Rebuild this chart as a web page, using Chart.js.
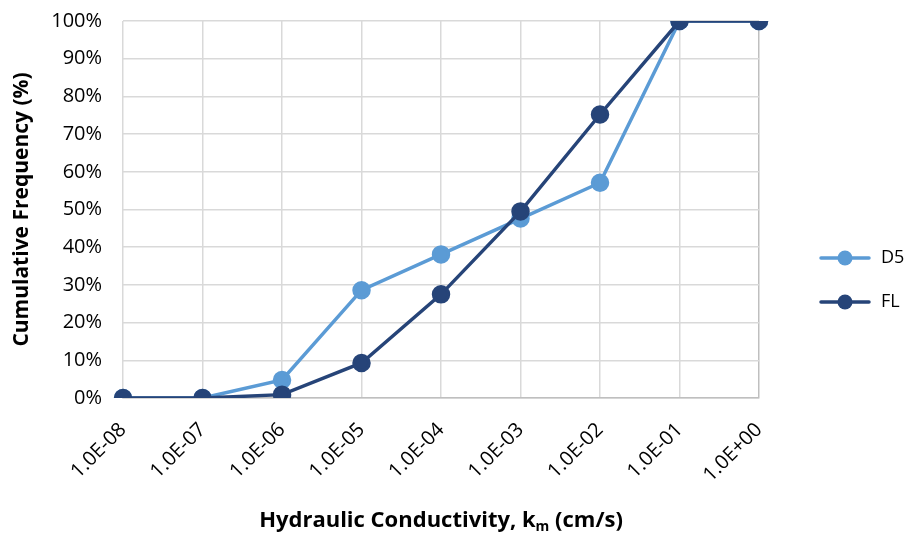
<!DOCTYPE html>
<html>
<head>
<meta charset="utf-8">
<script src="https://cdn.jsdelivr.net/npm/chart.js@4"></script>
<style>
  html, body { margin: 0; padding: 0; background: #fff; }
  #wrap { width: 904px; height: 536px; }
</style>
</head>
<body>
<div id="wrap"><canvas id="chart" width="904" height="536"></canvas></div>
<script>
let categories = ['1.0E-08', '1.0E-07', '1.0E-06', '1.0E-05', '1.0E-04', '1.0E-03', '1.0E-02', '1.0E-01', '1.0E+00'];
let d5Values = [0, 0, 4.8, 28.6, 38.1, 47.6, 57.1, 100, 100];
let flValues = [0, 0, 0.9, 9.3, 27.5, 49.5, 75.2, 100, 100];
let yTicks = [0, 10, 20, 30, 40, 50, 60, 70, 80, 90, 100];

const FONT = "'Open Sans', 'Liberation Sans', sans-serif";
const LEGEND_W = 145;   // width of the legend column at the right
const LEGEND_DY = 16;   // legend sits a bit below the middle

// line + marker icon, with empty room on its left
function legendIcon(color) {
    let c = document.createElement('canvas');
    c.width = 87; c.height = 16;
    let g = c.getContext('2d');
    g.strokeStyle = color;
    g.lineWidth = 3.5;
    g.lineCap = 'round';
    g.beginPath(); g.moveTo(36, 8); g.lineTo(84, 8); g.stroke();
    g.fillStyle = color;
    g.beginPath(); g.arc(60, 8, 7.5, 0, Math.PI * 2); g.fill();
    return c;
}

const legendBox = {
    id: 'legendBox',
    beforeLayout(chart) {
        let lg = chart.legend;
        if (!lg || lg._patched) return;
        lg._patched = true;
        let fit = lg.fit;
        lg.fit = function () { fit.call(this); this.width = LEGEND_W; };
        let draw = lg.draw;
        lg.draw = function () {
            let g = this.ctx;
            g.save(); g.translate(0, LEGEND_DY);
            draw.apply(this, arguments);
            g.restore();
        };
    }
};

// x axis title with subscript m
const xTitle = {
    id: 'xTitle',
    afterDraw(chart) {
        let g = chart.ctx;
        let area = chart.chartArea;
        let cx = (area.left + area.right) / 2;
        let y = 527;
        g.save();
        g.fillStyle = '#000';
        g.textBaseline = 'alphabetic';
        let big = 'bold 22px ' + FONT;
        let small = 'bold 14px ' + FONT;
        let a = 'Hydraulic Conductivity, k', b = 'm', c = ' (cm/s)';
        g.font = big; let wa = g.measureText(a).width, wc = g.measureText(c).width;
        g.font = small; let wb = g.measureText(b).width;
        let x = cx - (wa + wb + wc) / 2;
        g.font = big; g.fillText(a, x, y);
        g.font = small; g.fillText(b, x + wa, y + 4);
        g.font = big; g.fillText(c, x + wa + wb, y);
        g.restore();
    }
};

let ctx = document.getElementById('chart').getContext('2d');
let myChart = new Chart(ctx, {
    type: 'line',
    data: {
        labels: categories,
        datasets: [{
            label: 'D5',
            data: d5Values,
            borderColor: '#5B9BD5',
            backgroundColor: '#5B9BD5',
            borderWidth: 3.5,
            pointRadius: 7.5,
            pointHoverRadius: 7.5,
            order: 1
        }, {
            label: 'FL',
            data: flValues,
            borderColor: '#264478',
            backgroundColor: '#264478',
            borderWidth: 3.5,
            pointRadius: 7.5,
            pointHoverRadius: 7.5,
            order: 0
        }]
    },
    options: {
        responsive: false,
        animation: false,
        layout: { padding: { top: 21, bottom: 29, left: 2, right: 0 } },
        plugins: {
            legend: {
                position: 'right',
                labels: {
                    usePointStyle: true,
                    pointStyleWidth: 87,
                    padding: 26,
                    color: '#000',
                    font: { family: FONT, size: 18 },
                    sort: (a, b) => a.datasetIndex - b.datasetIndex,
                    generateLabels(chart) {
                        let items = Chart.defaults.plugins.legend.labels.generateLabels(chart);
                        items.forEach(it => {
                            it.pointStyle = legendIcon(chart.data.datasets[it.datasetIndex].borderColor);
                        });
                        return items;
                    }
                }
            },
            tooltip: { enabled: false }
        },
        scales: {
            x: {
                offset: false,
                grid: {
                    color: c => c.index === categories.length - 1 ? '#bfbfbf' : '#d9d9d9',
                    lineWidth: 1.5,
                    drawTicks: false
                },
                border: { color: '#bfbfbf', width: 1.5 },
                ticks: {
                    color: '#000',
                    font: { family: FONT, size: 20 },
                    minRotation: 45,
                    maxRotation: 45,
                    padding: 20
                }
            },
            y: {
                min: 0,
                max: 100,
                afterBuildTicks(axis) { axis.ticks = yTicks.map(v => ({ value: v })); },
                // wide label gap should not push the plot down
                afterFit(axis) { axis.paddingTop = 10; axis.paddingBottom = 10; },
                grid: { color: '#d9d9d9', lineWidth: 1.5, drawTicks: false },
                border: { display: false },
                ticks: {
                    color: '#000',
                    font: { family: FONT, size: 20 },
                    padding: 21,
                    callback: v => v + '%'
                },
                title: {
                    display: true,
                    text: 'Cumulative Frequency (%)',
                    color: '#000',
                    font: { family: FONT, size: 21, weight: 'bold' },
                    padding: { top: 7, bottom: -4 }
                }
            }
        }
    },
    plugins: [legendBox, xTitle]
});
</script>
</body>
</html>
